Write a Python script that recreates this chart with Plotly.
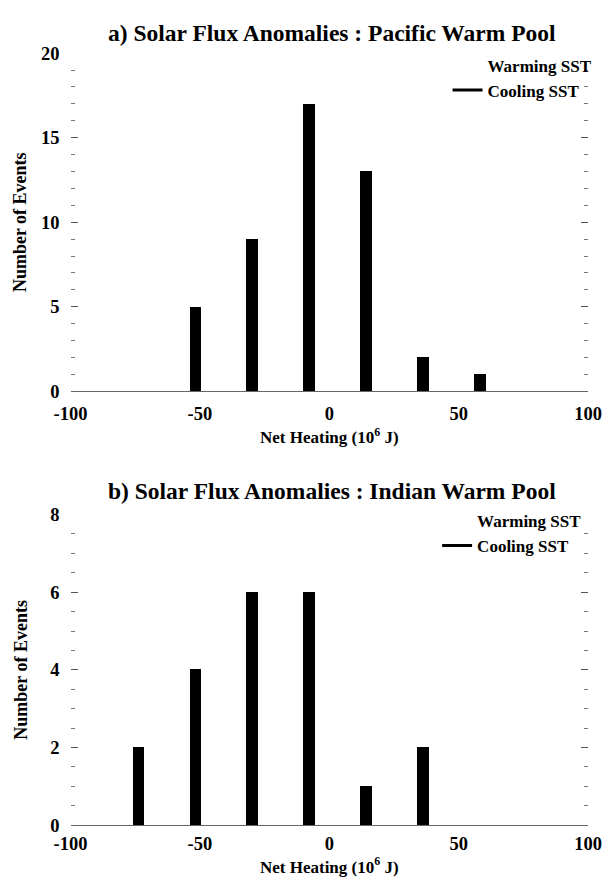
import plotly.graph_objects as go

# Bin centres (10^6 J) and event counts
bins_pacific = [-52, -30, -8, 14, 36, 58]
cooling_pacific = [5, 9, 17, 13, 2, 1]

bins_indian = [-74, -52, -30, -8, 14, 36]
cooling_indian = [2, 4, 6, 6, 1, 2]

x_ticks = [-100, -50, 0, 50, 100]
x_tick_text = ["-100", "-50", "0", "50", "100"]
bar_width = 4.4

FONT = "Liberation Serif"
W, H = 614, 881

def py(p):
    return 1 - p / H

fig = go.Figure()

fig.add_trace(go.Bar(x=bins_pacific, y=cooling_pacific, width=bar_width,
                     marker=dict(color="black", line=dict(width=0)),
                     showlegend=False, xaxis="x", yaxis="y"))
fig.add_trace(go.Bar(x=bins_indian, y=cooling_indian, width=bar_width,
                     marker=dict(color="black", line=dict(width=0)),
                     showlegend=False, xaxis="x2", yaxis="y2"))

# legend entries
for leg, xa, ya in [("legend", "x", "y"), ("legend2", "x2", "y2")]:
    fig.add_trace(go.Scatter(x=[None], y=[None], mode="lines", name="Warming SST",
                             line=dict(color="white", width=3), legend=leg,
                             xaxis=xa, yaxis=ya))
    fig.add_trace(go.Scatter(x=[None], y=[None], mode="lines", name="Cooling SST",
                             line=dict(color="black", width=3), legend=leg,
                             xaxis=xa, yaxis=ya))

xd = [48 / W, 593 / W]
tickfont = dict(family=FONT, size=18.5, color="black", weight="bold")
titlefont = dict(family=FONT, size=17, color="black", weight="bold")
ytitlefont = dict(family=FONT, size=18, color="black", weight="bold")
legfont = dict(family=FONT, size=17, color="black", weight="bold")

common_x = dict(range=[-100, 100], tickvals=x_ticks, ticktext=x_tick_text, ticks="",
                showgrid=False, zeroline=False, showline=True, linecolor="#666",
                linewidth=1, tickfont=tickfont)
common_y = dict(showgrid=False, zeroline=False, showline=False, ticks="inside",
                ticklen=7, tickcolor="#555", mirror="ticks", tickfont=tickfont,
                ticklabelstandoff=10)

fig.update_layout(
    width=W, height=H,
    margin=dict(l=0, r=0, t=0, b=0),
    paper_bgcolor="white", plot_bgcolor="white",
    bargap=0,
    xaxis=dict(domain=xd, anchor="y", ticklabelstandoff=5,
               title=dict(text="Net Heating (10<sup>6</sup> J)", font=titlefont, standoff=8),
               **common_x),
    yaxis=dict(domain=[py(382), py(36)], anchor="x", range=[0, 20], dtick=5,
               title=dict(text="Number of Events", font=ytitlefont, standoff=9),
               minor=dict(dtick=1, ticks="inside", ticklen=4, tickcolor="#777"),
               **common_y),
    xaxis2=dict(domain=xd, anchor="y2", ticklabelstandoff=2,
                title=dict(text="Net Heating (10<sup>6</sup> J)", font=titlefont, standoff=0),
                **common_x),
    yaxis2=dict(domain=[py(826), py(508)], anchor="x2", range=[0, 8], dtick=2,
                title=dict(text="Number of Events", font=ytitlefont, standoff=18),
                minor=dict(dtick=0.5, ticks="inside", ticklen=4, tickcolor="#777"),
                **common_y),
    legend=dict(x=603 / W, y=py(30), xanchor="right", yanchor="top",
                bgcolor="rgba(0,0,0,0)", tracegroupgap=0, itemwidth=30,
                font=legfont),
    legend2=dict(x=592 / W, y=py(496), xanchor="right", yanchor="top",
                 bgcolor="rgba(0,0,0,0)", tracegroupgap=0, itemwidth=30,
                 font=legfont),
    annotations=[
        dict(text="a) Solar Flux Anomalies : Pacific Warm Pool", x=323 / W, y=1,
             xref="paper", yref="paper", showarrow=False, yanchor="top",
             font=dict(family=FONT, size=23.5, color="black", weight="bold")),
        dict(text="b) Solar Flux Anomalies : Indian Warm Pool", x=323 / W, y=py(469),
             xref="paper", yref="paper", showarrow=False, yanchor="top",
             font=dict(family=FONT, size=23.5, color="black", weight="bold")),
    ],
)

fig.write_html("out.html")
